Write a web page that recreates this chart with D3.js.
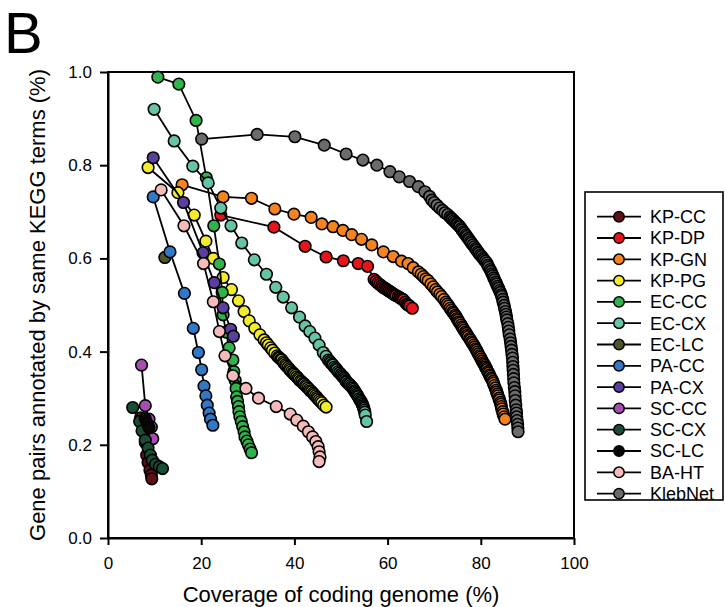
<!DOCTYPE html>
<html><head><meta charset="utf-8">
<script src="https://cdn.jsdelivr.net/npm/d3@7"></script>
<style>body{margin:0;background:#fff} svg{display:block} text{font-family:"Liberation Sans",Arial,sans-serif}</style>
</head><body><svg id="c" width="725" height="607"></svg>
<script>
const seriesNames = ["KP-CC","KP-DP","KP-GN","KP-PG","EC-CC","EC-CX","EC-LC","PA-CC","PA-CX","SC-CC","SC-CX","SC-LC","BA-HT","KlebNet"];
const seriesColors = ["#5e1016","#e8141c","#f5841f","#f2ec2c","#2fb34a","#66c4a6","#51542a","#3178c6","#5a3f9e","#a64daf","#1a4d35","#0b0606","#f5baba","#6b6b6b"];

const KP_CC = [[7.0,0.258],[7.6,0.236],[8.0,0.205],[8.3,0.178],[8.6,0.162],[9.0,0.146],[9.3,0.135],[9.4,0.127]];
const KP_DP = [[24.2,0.693],[35.6,0.667],[42.3,0.626],[46.8,0.603],[50.5,0.595],[53.7,0.589],[55.7,0.583],[57.1,0.555],[57.5,0.551],[57.9,0.547],[58.3,0.544],[58.7,0.541],[59.0,0.538],[59.4,0.536],[59.7,0.534],[60.0,0.532],[60.3,0.530],[60.6,0.528],[60.9,0.526],[61.2,0.524],[61.5,0.522],[61.8,0.520],[62.3,0.518],[62.6,0.516],[62.9,0.514],[63.2,0.512],[63.4,0.511],[63.8,0.506],[64.1,0.502],[64.4,0.500],[64.7,0.498],[65.3,0.493]];
const KP_GN = [[15.9,0.758],[24.7,0.732],[30.8,0.729],[35.8,0.706],[39.9,0.695],[43.6,0.688],[45.9,0.674],[48.3,0.668],[50.4,0.660],[52.3,0.651],[54.4,0.641],[56.6,0.629],[59.1,0.614],[61.2,0.604],[63.0,0.594],[64.4,0.589],[65.5,0.580],[66.6,0.571],[67.2,0.566],[67.7,0.561],[68.2,0.556],[68.7,0.552],[69.3,0.545],[69.8,0.539],[70.3,0.533],[70.7,0.528],[71.2,0.523],[71.6,0.518],[72.1,0.512],[72.5,0.506],[72.8,0.502],[73.1,0.498],[73.4,0.493],[73.7,0.489],[74.0,0.485],[74.2,0.482],[74.5,0.478],[74.7,0.475],[74.9,0.471],[75.1,0.468],[75.3,0.464],[75.5,0.461],[75.8,0.457],[76.0,0.453],[76.2,0.450],[76.4,0.446],[76.7,0.442],[76.9,0.439],[77.1,0.435],[77.3,0.432],[77.6,0.428],[77.8,0.425],[78.0,0.421],[78.2,0.418],[78.5,0.414],[78.7,0.410],[78.9,0.406],[79.1,0.403],[79.3,0.399],[79.5,0.395],[79.7,0.391],[79.9,0.388],[80.1,0.384],[80.3,0.380],[80.5,0.376],[80.7,0.373],[80.9,0.370],[81.0,0.367],[81.2,0.364],[81.3,0.361],[81.5,0.357],[81.7,0.354],[81.9,0.350],[82.0,0.347],[82.2,0.343],[82.4,0.340],[82.6,0.336],[82.7,0.332],[82.9,0.327],[83.1,0.322],[83.3,0.317],[83.4,0.313],[83.6,0.309],[83.7,0.305],[83.9,0.300],[84.0,0.296],[84.2,0.291],[84.3,0.287],[84.4,0.282],[84.5,0.277],[84.7,0.271],[84.8,0.266],[85.0,0.260],[85.2,0.255]];
const KP_PG = [[8.6,0.795],[15.0,0.741],[18.5,0.693],[21.0,0.637],[22.6,0.600],[24.7,0.559],[26.5,0.533],[28.0,0.509],[29.2,0.486],[30.3,0.466],[31.5,0.450],[32.6,0.436],[33.5,0.425],[34.0,0.419],[34.4,0.414],[34.9,0.408],[35.3,0.403],[35.8,0.397],[36.3,0.391],[36.6,0.388],[36.8,0.386],[37.1,0.384],[37.3,0.382],[37.6,0.378],[37.8,0.375],[38.1,0.372],[38.3,0.369],[38.6,0.366],[38.9,0.363],[39.1,0.360],[39.4,0.357],[39.7,0.354],[39.9,0.352],[40.2,0.349],[40.5,0.346],[40.8,0.343],[41.0,0.340],[41.3,0.337],[41.6,0.335],[41.9,0.332],[42.1,0.330],[42.4,0.327],[42.6,0.325],[42.9,0.322],[43.2,0.319],[43.4,0.316],[43.7,0.314],[44.0,0.311],[44.2,0.308],[44.5,0.305],[44.8,0.302],[45.0,0.299],[45.3,0.296],[45.6,0.293],[45.9,0.290],[46.3,0.285],[46.8,0.281]];
const EC_CC = [[10.7,0.989],[15.2,0.974],[18.9,0.896],[21.1,0.773],[22.7,0.670],[23.9,0.588],[24.5,0.527],[24.7,0.479],[25.3,0.442],[26.0,0.408],[26.8,0.382],[27.0,0.357],[27.3,0.338],[27.5,0.321],[27.6,0.303],[27.8,0.293],[28.0,0.282],[28.1,0.271],[28.3,0.260],[28.6,0.250],[28.9,0.239],[29.2,0.228],[29.4,0.217],[29.8,0.208],[30.1,0.200],[30.5,0.191],[30.8,0.183]];
const EC_CX = [[9.9,0.920],[14.2,0.852],[18.2,0.798],[21.5,0.762],[24.2,0.708],[26.4,0.670],[28.7,0.633],[31.4,0.597],[34.0,0.566],[36.0,0.538],[37.6,0.517],[39.4,0.494],[41.1,0.474],[42.3,0.455],[43.3,0.443],[44.4,0.429],[45.3,0.414],[46.2,0.398],[46.8,0.390],[47.3,0.382],[47.6,0.379],[47.8,0.376],[48.1,0.373],[48.3,0.371],[48.6,0.367],[48.9,0.364],[49.1,0.361],[49.4,0.357],[49.7,0.354],[50.0,0.351],[50.2,0.348],[50.5,0.346],[50.7,0.343],[50.9,0.340],[51.1,0.337],[51.2,0.335],[51.5,0.332],[51.8,0.330],[52.0,0.327],[52.3,0.325],[52.5,0.322],[52.7,0.319],[52.9,0.316],[53.0,0.314],[53.2,0.311],[53.4,0.308],[53.6,0.305],[53.7,0.303],[53.9,0.299],[54.1,0.296],[54.3,0.293],[54.4,0.290],[54.6,0.287],[54.7,0.284],[54.8,0.281],[54.9,0.278],[55.0,0.274],[55.1,0.270],[55.2,0.264],[55.5,0.250]];
const EC_LC = [[12.2,0.602]];
const PA_CC = [[9.7,0.732],[13.3,0.614],[16.4,0.525],[18.3,0.450],[19.4,0.398],[20.1,0.361],[20.6,0.326],[21.0,0.305],[21.3,0.285],[21.7,0.268],[22.0,0.255],[22.5,0.242]];
const PA_CX = [[9.7,0.816],[16.2,0.720],[20.4,0.612],[22.8,0.548],[24.7,0.494],[26.3,0.448],[26.9,0.433]];
const SC_CC = [[7.2,0.371],[8.0,0.284],[8.8,0.255],[9.3,0.238],[9.6,0.213]];
const SC_CX = [[5.3,0.280],[6.8,0.250],[7.3,0.230],[8.0,0.210],[8.6,0.193],[9.1,0.178],[9.5,0.167],[10.2,0.158],[11.0,0.153],[11.7,0.149]];
const SC_LC = [[8.0,0.256],[8.4,0.246],[8.8,0.237]];
const BA_HT = [[11.4,0.747],[16.3,0.670],[20.5,0.589],[22.6,0.507],[23.9,0.443],[25.1,0.391],[26.8,0.348],[29.6,0.321],[32.3,0.300],[36.1,0.282],[39.1,0.266],[40.5,0.253],[41.9,0.240],[43.0,0.228],[43.9,0.217],[44.6,0.207],[45.1,0.196],[45.3,0.185],[45.5,0.174],[45.3,0.164]];
const KlebNet = [[20.1,0.856],[32.0,0.866],[40.1,0.861],[46.4,0.843],[51.1,0.824],[54.7,0.811],[57.7,0.800],[60.5,0.786],[62.5,0.775],[64.7,0.765],[66.6,0.754],[68.0,0.743],[69.0,0.733],[69.5,0.725],[70.0,0.720],[70.6,0.714],[71.2,0.708],[71.8,0.703],[72.3,0.698],[72.9,0.694],[73.4,0.689],[73.7,0.686],[73.9,0.684],[74.2,0.681],[74.5,0.678],[74.8,0.675],[75.0,0.673],[75.3,0.670],[75.5,0.668],[75.8,0.664],[76.0,0.661],[76.3,0.657],[76.5,0.654],[76.8,0.650],[77.0,0.647],[77.3,0.643],[77.5,0.640],[77.8,0.636],[78.0,0.633],[78.3,0.629],[78.6,0.625],[78.9,0.621],[79.1,0.618],[79.4,0.614],[79.6,0.611],[79.9,0.607],[80.2,0.604],[80.5,0.600],[80.7,0.597],[81.0,0.594],[81.3,0.590],[81.5,0.585],[81.7,0.581],[82.0,0.576],[82.2,0.572],[82.4,0.567],[82.6,0.563],[82.8,0.558],[83.0,0.554],[83.2,0.549],[83.4,0.545],[83.6,0.540],[83.8,0.536],[84.0,0.531],[84.2,0.527],[84.4,0.522],[84.5,0.518],[84.7,0.512],[84.8,0.506],[85.0,0.499],[85.1,0.493],[85.3,0.486],[85.4,0.480],[85.5,0.474],[85.6,0.468],[85.8,0.460],[85.9,0.452],[86.0,0.444],[86.1,0.436],[86.3,0.427],[86.4,0.419],[86.5,0.411],[86.6,0.403],[86.7,0.394],[86.8,0.386],[86.85,0.377],[86.9,0.368],[86.95,0.360],[87.0,0.351],[87.05,0.342],[87.1,0.333],[87.2,0.323],[87.3,0.314],[87.35,0.305],[87.4,0.295],[87.5,0.285],[87.6,0.275],[87.65,0.268],[87.7,0.260],[87.8,0.252],[87.9,0.244],[87.95,0.236],[88.0,0.228]];

const seriesData = [KP_CC,KP_DP,KP_GN,KP_PG,EC_CC,EC_CX,EC_LC,PA_CC,PA_CX,SC_CC,SC_CX,SC_LC,BA_HT,KlebNet];
const xTicks = [0,20,40,60,80,100];
const yTicks = [0,0.2,0.4,0.6,0.8,1.0];
const xTitle = "Coverage of coding genome (%)";
const yTitle = "Gene pairs annotated by same KEGG terms (%)";
const panelLabel = "B";

const svg = d3.select("#c");
const x = d3.scaleLinear().domain([0,100]).range([108,574]);
const y = d3.scaleLinear().domain([0,1]).range([538,72]);

svg.append("text").attr("x",4).attr("y",53).attr("font-size",58).text(panelLabel);

// frame
svg.append("rect").attr("x",x(0)).attr("y",y(1)).attr("width",x(100)-x(0)).attr("height",y(0)-y(1))
  .attr("fill","none").attr("stroke","#000").attr("stroke-width",2);

const gx = svg.append("g").attr("transform",`translate(0,${y(0)})`)
  .call(d3.axisBottom(x).tickValues(xTicks).tickSize(7).tickSizeOuter(0).tickPadding(12).tickFormat(d3.format("d")));
const gy = svg.append("g").attr("transform",`translate(${x(0)},0)`)
  .call(d3.axisLeft(y).tickValues(yTicks).tickSize(8).tickSizeOuter(0).tickPadding(8).tickFormat(d3.format(".1f")));
[gx,gy].forEach(g=>{
  g.select(".domain").attr("stroke","#000").attr("stroke-width",2);
  g.selectAll(".tick line").attr("stroke","#000").attr("stroke-width",2);
  g.selectAll(".tick text").attr("fill","#000").attr("font-size",17).attr("font-family",'"Liberation Sans",Arial,sans-serif');
});

svg.append("text").attr("x",(x(0)+x(100))/2).attr("y",602).attr("text-anchor","middle").attr("font-size",22).text(xTitle);
svg.append("text").attr("transform",`translate(45,${(y(0)+y(1))/2}) rotate(-90)`).attr("text-anchor","middle").attr("font-size",22).text(yTitle);

const line = d3.line().x(d=>x(d[0])).y(d=>y(d[1]));
seriesData.forEach((data,i)=>{
  const g = svg.append("g");
  g.append("path").datum(data).attr("d",line).attr("fill","none").attr("stroke","#000").attr("stroke-width",1.8);
  g.selectAll("circle").data(data).join("circle")
    .attr("cx",d=>x(d[0])).attr("cy",d=>y(d[1])).attr("r",5.8)
    .attr("fill",seriesColors[i]).attr("stroke","#000").attr("stroke-width",1.6);
});

// legend
const lg = svg.append("g");
lg.append("rect").attr("x",585).attr("y",192).attr("width",138).attr("height",308)
  .attr("fill","#fff").attr("stroke","#000").attr("stroke-width",1.6);
seriesNames.forEach((name,i)=>{
  const yy = 216.7 + i*21.3;
  lg.append("line").attr("x1",597).attr("x2",641).attr("y1",yy).attr("y2",yy).attr("stroke","#000").attr("stroke-width",1.8);
  lg.append("circle").attr("cx",619).attr("cy",yy).attr("r",5.2).attr("fill",seriesColors[i]).attr("stroke","#000").attr("stroke-width",1.5);
  lg.append("text").attr("x",650).attr("y",yy).attr("dy","0.36em").attr("font-size",18).text(name);
});
</script></body></html>
